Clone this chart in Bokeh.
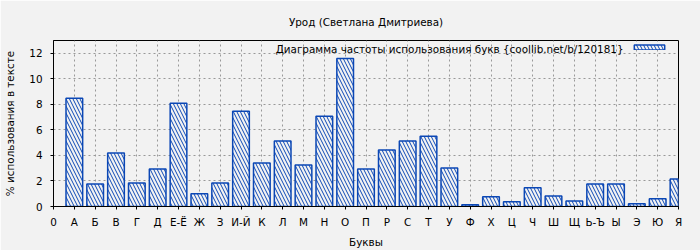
from bokeh.plotting import figure
from bokeh.models import (FixedTicker, Range1d, Legend, LegendItem, Label, ColumnDataSource)
from bokeh.embed import file_html
from bokeh.resources import INLINE

title_text = "Урод (Светлана Дмитриева)"
legend_text = "Диаграмма частоты использования букв {coollib.net/b/120181}"
x_title = "Буквы"
y_title = "% использования в тексте"

tick_labels = ["0", "А", "Б", "В", "Г", "Д", "Е-Ё", "Ж", "З", "И-Й", "К", "Л", "М", "Н",
               "О", "П", "Р", "С", "Т", "У", "Ф", "Х", "Ц", "Ч", "Ш", "Щ", "Ь-Ъ",
               "Ы", "Э", "Ю", "Я"]
letters = tick_labels[1:]
values = [8.47, 1.77, 4.18, 1.85, 2.94, 8.08, 0.99, 1.85, 7.46, 3.40, 5.12, 3.25, 7.07,
          11.59, 2.94, 4.43, 5.12, 5.51, 3.02, 0.13, 0.76, 0.37, 1.46, 0.83, 0.44,
          1.77, 1.77, 0.21, 0.60, 2.16]
positions = list(range(1, len(letters) + 1))
y_ticks = [0, 2, 4, 6, 8, 10, 12]

FONT = "DejaVu Sans"
FS = "10.4px"
BG = "#f2f2f2"
BLUE = "#0b47b5"

src = ColumnDataSource(dict(x=positions, top=values, letter=letters))

p = figure(width=700, height=250, output_backend="svg", toolbar_location=None,
           x_range=Range1d(0, 30), y_range=Range1d(0, 13),
           min_border_left=53, min_border_right=22, min_border_top=40, min_border_bottom=44)
p.background_fill_color = BG
p.border_fill_color = BG
p.outline_line_color = "black"
p.outline_line_width = 1

r = p.vbar(x="x", top="top", width=0.8, source=src, fill_color=BG,
           line_color=BLUE, line_width=1.5, hatch_pattern="\\", hatch_color=BLUE,
           hatch_scale=7, hatch_weight=1)

p.title.text = title_text
p.title.align = "center"
p.title.text_font = FONT
p.title.text_font_size = FS
p.title.text_font_style = "normal"
p.title.text_color = "black"
p.title.standoff = 25

p.xaxis.ticker = FixedTicker(ticks=list(range(len(tick_labels))))
p.xaxis.major_label_overrides = {i: t for i, t in enumerate(tick_labels)}
p.yaxis.ticker = FixedTicker(ticks=y_ticks)
for ax in (p.xaxis, p.yaxis):
    ax.axis_line_color = "black"
    ax.major_tick_line_color = "black"
    ax.major_tick_in = 0
    ax.major_tick_out = 3
    ax.minor_tick_line_color = None
    ax.major_label_text_font = FONT
    ax.major_label_text_font_size = FS
    ax.major_label_text_color = "black"
    ax.axis_label_text_font = FONT
    ax.axis_label_text_font_size = FS
    ax.axis_label_text_font_style = "normal"
    ax.axis_label_text_color = "black"
p.xaxis.axis_label = x_title
p.yaxis.axis_label = y_title
p.yaxis.major_label_standoff = 8
p.xaxis.major_label_standoff = 6
p.xaxis.axis_label_standoff = 5
p.yaxis.axis_label_standoff = 10

for g in (p.xgrid, p.ygrid):
    g.grid_line_color = "#999999"
    g.grid_line_dash = "2 3"
    g.grid_line_width = 1
p.xgrid.ticker = FixedTicker(ticks=list(range(len(tick_labels))))
p.ygrid.ticker = FixedTicker(ticks=y_ticks)

legend = Legend(items=[LegendItem(label=" ", renderers=[r])], location=(577, 156),
                padding=0, margin=0, spacing=0, glyph_width=38, glyph_height=6,
                label_width=0, label_height=5, label_standoff=0,
                label_text_font_size="1px", border_line_alpha=0, background_fill_alpha=0)
p.add_layout(legend, "center")

p.add_layout(Label(x=570, y=158, x_units="screen", y_units="screen", text=legend_text,
                   text_align="right", text_baseline="middle", text_font=FONT,
                   text_font_size=FS, text_color="black"))

open("out.html", "w").write(file_html(p, INLINE))
